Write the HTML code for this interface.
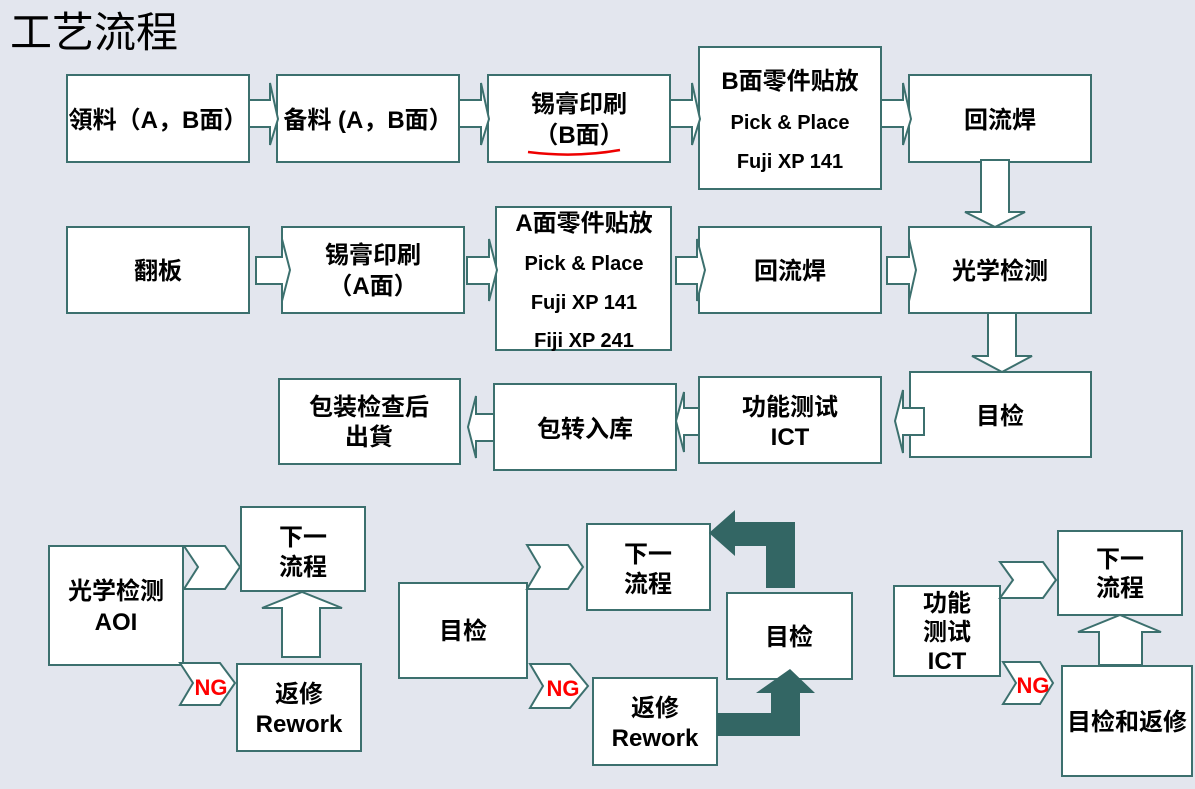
<!DOCTYPE html>
<html><head><meta charset="utf-8"><style>
body{margin:0;background:#e3e6ee;}
svg{display:block;}
text{font-family:"Liberation Sans","Noto Sans CJK SC",sans-serif;font-weight:bold;fill:#000;text-anchor:middle;}
.b{fill:#fff;stroke:#3c706e;stroke-width:2;}
.a{fill:#fff;stroke:#3c706e;stroke-width:2;stroke-linejoin:miter;}
.d{fill:#336664;stroke:none;}
</style></head><body>
<svg width="1195" height="789" viewBox="0 0 1195 789">
<rect width="1195" height="789" fill="#e3e6ee"/>
<text x="10" y="47" style="font-weight:normal;text-anchor:start;font-size:42px">工艺流程</text>

<rect class="b" x="67" y="75" width="182" height="87"/>
<rect class="b" x="277" y="75" width="182" height="87"/>
<rect class="b" x="488" y="75" width="182" height="87"/>
<rect class="b" x="699" y="47" width="182" height="142"/>
<rect class="b" x="909" y="75" width="182" height="87"/>
<polygon class="a" points="249,100 270,100 270,83 278,119 270,145 270,127 249,127"/>
<polygon class="a" points="459,100 481,100 481,83 489,119 481,145 481,127 459,127"/>
<polygon class="a" points="670,100 692,100 692,83 700,119 692,145 692,127 670,127"/>
<polygon class="a" points="881,100 903,100 903,83 911,119 903,145 903,127 881,127"/>

<text font-size="24" x="158" y="128">領料（A，B面）</text>
<text font-size="24" x="368" y="128">备料 (A，B面）</text>
<text font-size="24" x="579" y="112">锡膏印刷</text>
<text font-size="24" x="579" y="143">（B面）</text>
<path d="M528,152 Q575,158 620,150" stroke="#e00" stroke-width="2.5" fill="none"/>
<text font-size="24" x="790" y="89">B面零件贴放</text>
<text font-size="20" x="790" y="129">Pick &amp; Place</text>
<text font-size="20" x="790" y="168">Fuji XP 141</text>
<text font-size="24" x="1000" y="128">回流焊</text>

<polygon class="a" points="981,160 1009,160 1009,212 1025,212 995,227 965,212 981,212"/>
<polygon class="a" points="988,307 1016,307 1016,356 1032,356 1002,372 972,356 988,356"/>

<rect class="b" x="67" y="227" width="182" height="86"/>
<rect class="b" x="282" y="227" width="182" height="86"/>
<rect class="b" x="496" y="207" width="175" height="143"/>
<rect class="b" x="699" y="227" width="182" height="86"/>
<rect class="b" x="909" y="227" width="182" height="86"/>
<polygon class="a" points="256,257 282,257 282,239 290,270 282,301 282,284 256,284"/>
<polygon class="a" points="467,257 489,257 489,239 497,270 489,301 489,284 467,284"/>
<polygon class="a" points="676,257 697,257 697,239 705,270 697,301 697,284 676,284"/>
<polygon class="a" points="887,257 909,257 909,239 916,270 909,301 909,284 887,284"/>
<text font-size="24" x="158" y="279">翻板</text>
<text font-size="24" x="373" y="263">锡膏印刷</text>
<text font-size="24" x="373" y="294">（A面）</text>
<text font-size="24" x="584" y="231">A面零件贴放</text>
<text font-size="20" x="584" y="270">Pick &amp; Place</text>
<text font-size="20" x="584" y="309">Fuji XP 141</text>
<text font-size="20" x="584" y="347">Fiji XP 241</text>
<text font-size="24" x="790" y="279">回流焊</text>
<text font-size="24" x="1000" y="279">光学检测</text>

<rect class="b" x="279" y="379" width="181" height="85"/>
<rect class="b" x="494" y="384" width="182" height="86"/>
<rect class="b" x="699" y="377" width="182" height="86"/>
<rect class="b" x="910" y="372" width="181" height="85"/>
<polygon class="a" points="924,408 903,408 903,390 895,421 903,453 903,435 924,435"/>
<polygon class="a" points="699,408 684,408 684,392 676,421 684,452 684,435 699,435"/>
<polygon class="a" points="494,414 476,414 476,396 468,427 476,458 476,441 494,441"/>
<text font-size="24" x="369" y="415">包装检查后</text>
<text font-size="24" x="369" y="445">出貨</text>
<text font-size="24" x="585" y="437">包转入库</text>
<text font-size="24" x="790" y="415">功能测试</text>
<text font-size="24" x="790" y="445">ICT</text>
<text font-size="24" x="1000" y="424">目检</text>

<rect class="b" x="49" y="546" width="134" height="119"/>
<rect class="b" x="241" y="507" width="124" height="84"/>
<rect class="b" x="237" y="664" width="124" height="87"/>
<polygon class="a" points="184,546 225,546 240,567 225,589 184,589 198,567"/>
<polygon class="a" points="180,663 220,663 235,683 220,705 180,705 193,683"/>
<polygon class="a" points="282,657 282,608 262,608 302,592 342,608 320,608 320,657"/>
<text font-size="24" x="116" y="599">光学检测</text>
<text font-size="24" x="116" y="630">AOI</text>
<text font-size="24" x="303" y="545">下一</text>
<text font-size="24" x="303" y="575">流程</text>
<text font-size="24" x="299" y="702">返修</text>
<text font-size="24" x="299" y="732">Rework</text>
<text font-size="22" x="211" y="695" style="fill:#f00">NG</text>

<rect class="b" x="399" y="583" width="128" height="95"/>
<rect class="b" x="587" y="524" width="123" height="86"/>
<rect class="b" x="727" y="593" width="125" height="86"/>
<rect class="b" x="593" y="678" width="124" height="87"/>
<polygon class="a" points="527,545 568,545 583,567 568,589 527,589 540,567"/>
<polygon class="a" points="530,664 570,664 588,686 570,708 530,708 543,686"/>
<polygon class="d" points="717,713 771,713 771,693 756,693 790,669 815,693 800,693 800,736 717,736"/>
<polygon class="d" points="766,588 766,546 735,546 735,556 709,533 735,510 735,522 795,522 795,588"/>
<text font-size="24" x="463" y="639">目检</text>
<text font-size="24" x="648" y="562">下一</text>
<text font-size="24" x="648" y="592">流程</text>
<text font-size="24" x="789" y="645">目检</text>
<text font-size="24" x="655" y="716">返修</text>
<text font-size="24" x="655" y="746">Rework</text>
<text font-size="22" x="563" y="696" style="fill:#f00">NG</text>

<rect class="b" x="894" y="586" width="106" height="90"/>
<rect class="b" x="1058" y="531" width="124" height="84"/>
<rect class="b" x="1062" y="666" width="130" height="110"/>
<polygon class="a" points="1000,562 1043,562 1056,580 1043,598 1000,598 1013,580"/>
<polygon class="a" points="1003,662 1040,662 1053,683 1040,704 1003,704 1016,683"/>
<polygon class="a" points="1099,665 1099,632 1078,632 1120,615 1161,632 1142,632 1142,665"/>
<text font-size="24" x="947" y="611">功能</text>
<text font-size="24" x="947" y="640">测试</text>
<text font-size="24" x="947" y="669">ICT</text>
<text font-size="24" x="1120" y="567">下一</text>
<text font-size="24" x="1120" y="596">流程</text>
<text font-size="24" x="1127" y="730">目检和返修</text>
<text font-size="22" x="1033" y="693" style="fill:#f00">NG</text>
</svg>
</body></html>
